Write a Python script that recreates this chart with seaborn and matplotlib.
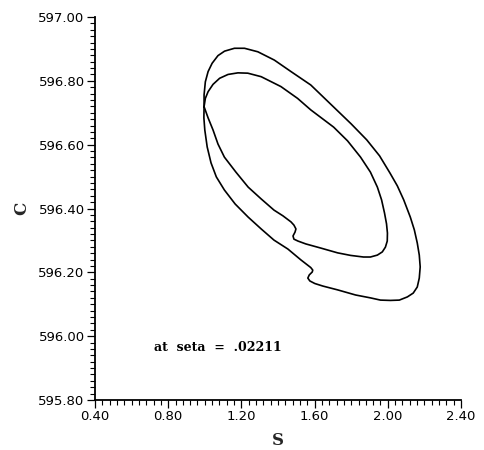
import numpy as np
import pandas as pd
import seaborn as sns
import matplotlib
matplotlib.use("Agg")
import matplotlib.pyplot as plt
from matplotlib.ticker import MultipleLocator, FormatStrFormatter

# Outer orbit in the (S, C) plane
outer_s = [0.996, 0.996, 1.003, 1.018, 1.040, 1.072, 1.108, 1.162, 1.217, 1.290,
           1.380, 1.471, 1.579, 1.704, 1.800, 1.885, 1.955, 2.012, 2.052, 2.087,
           2.123, 2.145, 2.161, 2.172, 2.177, 2.172, 2.161, 2.139, 2.107, 2.063,
           2.014, 1.960, 1.905, 1.824, 1.726, 1.645, 1.601, 1.574, 1.563, 1.571,
           1.587, 1.590, 1.579, 1.525, 1.454, 1.378, 1.308, 1.237, 1.166, 1.107,
           1.063, 1.034, 1.013, 1.000, 0.995, 0.996]
outer_c = [596.719, 596.756, 596.797, 596.829, 596.855, 596.879, 596.893, 596.902,
           596.902, 596.891, 596.865, 596.829, 596.787, 596.718, 596.665, 596.615,
           596.565, 596.511, 596.471, 596.427, 596.373, 596.333, 596.292, 596.254,
           596.217, 596.182, 596.154, 596.135, 596.123, 596.113, 596.112, 596.113,
           596.120, 596.129, 596.145, 596.157, 596.165, 596.173, 596.182, 596.192,
           596.201, 596.207, 596.215, 596.239, 596.273, 596.301, 596.336, 596.373,
           596.414, 596.458, 596.499, 596.543, 596.593, 596.646, 596.684, 596.719]

# Inner orbit
inner_s = [0.996, 1.003, 1.018, 1.045, 1.081, 1.127, 1.181, 1.235, 1.308, 1.416,
           1.507, 1.579, 1.704, 1.780, 1.851, 1.905, 1.943, 1.966, 1.982, 1.993,
           1.998, 1.997, 1.987, 1.970, 1.943, 1.905, 1.867, 1.797, 1.726, 1.634,
           1.552, 1.509, 1.487, 1.482, 1.493, 1.498, 1.487, 1.471, 1.427, 1.378,
           1.308, 1.237, 1.170, 1.107, 1.072, 1.045, 1.018, 0.996]
inner_c = [596.719, 596.745, 596.766, 596.789, 596.808, 596.820, 596.825, 596.824,
           596.813, 596.782, 596.745, 596.709, 596.655, 596.612, 596.561, 596.514,
           596.467, 596.427, 596.386, 596.352, 596.323, 596.298, 596.279, 596.264,
           596.254, 596.248, 596.248, 596.253, 596.261, 596.276, 596.289, 596.298,
           596.304, 596.314, 596.326, 596.336, 596.348, 596.358, 596.377, 596.395,
           596.430, 596.467, 596.514, 596.561, 596.602, 596.646, 596.684, 596.719]

seta_label = "at  seta  =  .02211"

sns.set_style("ticks")
plt.rcParams["font.family"] = ["DejaVu Sans"]

fig = plt.figure(figsize=(4.85, 4.5), dpi=100)
ax = fig.add_axes([95 / 485, 1 - 400 / 450, (461 - 95) / 485, (400 - 17) / 450])

for s, c in ((outer_s, outer_c), (inner_s, inner_c)):
    df = pd.DataFrame({"S": s, "C": c, "step": np.arange(len(s))})
    sns.lineplot(data=df, x="S", y="C", sort=False, estimator=None,
                 color="black", linewidth=1.2, ax=ax)

ax.set_xlim(0.4, 2.4)
ax.set_ylim(595.8, 597.0)
ax.xaxis.set_major_locator(MultipleLocator(0.4))
ax.xaxis.set_minor_locator(MultipleLocator(0.04))
ax.yaxis.set_major_locator(MultipleLocator(0.2))
ax.yaxis.set_minor_locator(MultipleLocator(0.02))
ax.xaxis.set_major_formatter(FormatStrFormatter("%.2f"))
ax.yaxis.set_major_formatter(FormatStrFormatter("%.2f"))

sns.despine(ax=ax)
for sp in ("left", "bottom"):
    ax.spines[sp].set_linewidth(1.3)
    ax.spines[sp].set_color("black")
ax.tick_params(which="major", direction="out", length=5.5, width=0.9,
               labelsize=9.5, colors="black", pad=2)
ax.tick_params(which="minor", direction="out", length=3.5, width=0.8, colors="black")

ax.set_xlabel("S", family="DejaVu Serif", fontweight="bold", fontsize=12, labelpad=6)
ax.set_ylabel("C", family="DejaVu Serif", fontweight="bold", fontsize=12, labelpad=6)

ax.text(0.72, 595.963, seta_label, family="DejaVu Serif", fontweight="bold",
        fontsize=9, ha="left", va="center", color="black")

fig.savefig("out.png", dpi=100, facecolor="white")
